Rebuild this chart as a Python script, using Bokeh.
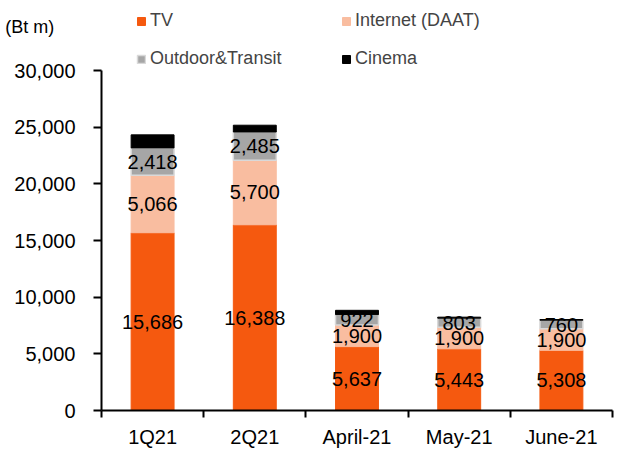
import numpy as np
from bokeh.plotting import figure
from bokeh.core.properties import value
from bokeh.models import (Range1d, FactorRange, LinearAxis, CategoricalAxis, FixedTicker,
                          NumeralTickFormatter, ColumnDataSource, LabelSet, Legend)
from bokeh.embed import file_html
from bokeh.resources import INLINE

categories = ["1Q21", "2Q21", "April-21", "May-21", "June-21"]
tv = [15686, 16388, 5637, 5443, 5308]
internet = [5066, 5700, 1900, 1900, 1900]
outdoor = [2418, 2485, 922, 803, 760]
cinema = [1150, 600, 380, 90, 60]
series_names = ["TV", "Internet (DAAT)", "Outdoor&Transit", "Cinema"]
colors = ["#F5590F", "#F9BDA0", "#A6A6A6", "#000000"]
line_colors = ["#F5590F", "#F9BDA0", "#D9D9D9", "#000000"]
y_ticks = [0, 5000, 10000, 15000, 20000, 25000, 30000]
y_max = 30000
unit_label = "(Bt m)"

FONT = "Liberation Sans"

# frame spans canvas from top (0) to its bottom; 30000 sits 70px below top
frame_h = 410.0
top_gap = 70
y_end = y_max * frame_h / (frame_h - top_gap)

src = ColumnDataSource(dict(cat=categories, tv=tv, internet=internet, outdoor=outdoor, cinema=cinema))

p = figure(width=627, height=450, x_range=FactorRange(*categories), y_range=Range1d(0, y_end),
           output_backend="svg", toolbar_location=None, x_axis_location=None,
           min_border_left=101, min_border_right=15, min_border_top=0, min_border_bottom=10)
p.outline_line_color = None
p.xgrid.grid_line_color = None
p.ygrid.grid_line_color = None

renderers = p.vbar_stack(["tv", "internet", "outdoor", "cinema"], x="cat", width=0.42, source=src,
                         fill_color=colors, line_color=line_colors, line_width=[1, 1, 1.5, 1])

# y axis
ya = p.yaxis[0]
ya.bounds = (0, y_max)
ya.ticker = FixedTicker(ticks=y_ticks)
ya.formatter = NumeralTickFormatter(format="0,0")
ya.axis_line_width = 2
ya.major_tick_line_width = 2
ya.major_tick_out = 8
ya.major_tick_in = 0
ya.minor_tick_line_color = None
ya.major_label_standoff = 18
ya.major_label_text_font = FONT
ya.major_label_text_font_size = "20px"
ya.major_label_text_color = "#000000"
ya.axis_label = "\n\n" + unit_label
ya.axis_label_orientation = "horizontal"
ya.axis_label_align = "end"
ya.axis_label_text_line_height = 1.3
ya.axis_label_standoff = -43
ya.axis_label_text_font = FONT
ya.axis_label_text_font_size = "18px"
ya.axis_label_text_font_style = "normal"
ya.axis_label_text_color = "#000000"

# x axis: boundary ticks (between categories) + category labels
boundaries = list(range(len(categories) + 1))
tick_axis = LinearAxis(ticker=FixedTicker(ticks=boundaries),
                       major_label_overrides={b: "" for b in boundaries},
                       major_label_text_font_size="0px", major_label_standoff=0,
                       major_label_text_line_height=0.0,
                       axis_label_standoff=0,
                       major_tick_out=7, major_tick_in=0, major_tick_line_width=2,
                       axis_line_width=2, minor_tick_line_color=None)
p.add_layout(tick_axis, "below")
cat_axis = CategoricalAxis(axis_line_color=None, major_tick_line_color=None, minor_tick_line_color=None,
                           major_label_standoff=2, axis_label_standoff=0, major_label_text_font=FONT,
                           major_label_text_line_height=1.0,
                           major_label_text_font_size="20px", major_label_text_color="#000000")
p.add_layout(cat_axis, "below")

# data labels
tv_a = np.array(tv); in_a = np.array(internet); out_a = np.array(outdoor)
lab_src = ColumnDataSource(dict(
    cat=categories * 3,
    y=list(tv_a / 2) + list(tv_a + in_a / 2) + list(tv_a + in_a + out_a / 2),
    txt=[f"{v:,}" for v in tv + internet + outdoor],
))
p.add_layout(LabelSet(x="cat", y="y", text="txt", source=lab_src, text_align="center",
                      text_baseline="middle", text_font=value(FONT), text_font_size=value("20px"),
                      text_color="#000000"))

legend = Legend(items=[(n, [r]) for n, r in zip(series_names, renderers)],
                location=(35, frame_h - 69), orientation="horizontal", ncols=2,
                padding=0, margin=0, spacing=17, glyph_width=10, glyph_height=10,
                label_height=20, label_width=174, label_standoff=4,
                label_text_font=FONT, label_text_font_size="18px",
                border_line_color=None, background_fill_alpha=0)
p.add_layout(legend, "center")

open("out.html", "w").write(file_html(p, INLINE))
